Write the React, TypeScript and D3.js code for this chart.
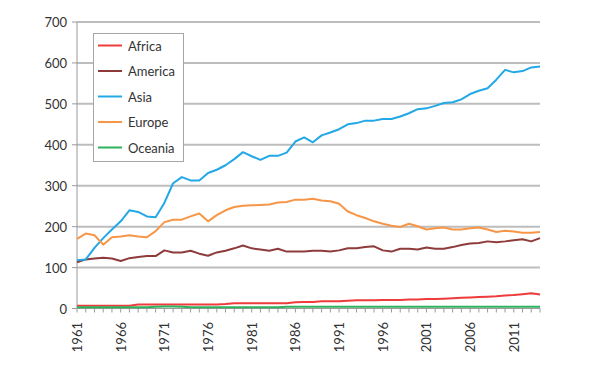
import React from "react";
import * as d3 from "d3";

const years = d3.range(1961, 2015);

const africa = [
  7, 7, 7, 7, 7, 7, 7, 10, 10, 10,
  10, 10, 10, 10, 10, 10, 10, 11, 13, 13,
  13, 13, 13, 13, 13, 15, 16, 16, 18, 18,
  18, 19, 20, 20, 20, 21, 21, 21, 22, 22,
  23, 23, 24, 25, 26, 27, 28, 29, 30, 32,
  33, 35, 37, 34,
];
const america = [
  113, 120, 122, 124, 122, 116, 123, 126, 128, 128,
  142, 137, 137, 141, 134, 129, 137, 141, 147, 154,
  147, 144, 141, 146, 139, 139, 139, 141, 141, 139,
  142, 147, 147, 150, 152, 142, 139, 146, 146, 144,
  149, 146, 146, 150, 155, 159, 160, 164, 162, 164,
  167, 169, 164, 172,
];
const asia = [
  118, 120, 148, 172, 193, 213, 240, 236, 225, 223,
  258, 306, 321, 313, 313, 331, 339, 350, 365, 382,
  372, 363, 373, 373, 381, 408, 418, 406, 423, 430,
  438, 450, 453, 459, 459, 463, 463, 469, 477, 487,
  489, 495, 502, 504, 511, 524, 532, 538, 559, 583,
  577, 580, 589, 591,
];
const europe = [
  170, 183, 179, 156, 174, 176, 179, 176, 174, 189,
  211, 217, 217, 225, 232, 213, 228, 240, 248, 251,
  252, 253, 254, 259, 260, 266, 266, 268, 264, 262,
  256, 237, 228, 221, 213, 207, 202, 199, 207, 201,
  193, 196, 198, 193, 193, 196, 198, 193, 187, 190,
  188, 185, 185, 187,
];
const oceania = [
  3, 3, 3, 3, 3, 3, 3, 3, 3, 4,
  5, 5, 4, 3, 3, 3, 3, 3, 3, 3,
  3, 3, 3, 3, 4, 4, 4, 4, 4, 4,
  4, 4, 4, 4, 4, 4, 4, 4, 4, 4,
  4, 4, 4, 4, 4, 4, 4, 4, 4, 4,
  4, 4, 4, 4,
];

const seriesNames = ["Africa", "America", "Asia", "Europe", "Oceania"];
const seriesValues = [africa, america, asia, europe, oceania];
const seriesColors = ["#ee3b3b", "#8e3b3b", "#22a8e6", "#f79646", "#2db35d"];

const yTicks = [0, 100, 200, 300, 400, 500, 600, 700];
const xLabelYears = years.filter((y) => (y - 1961) % 5 === 0);

const font = "Lato, 'Open Sans', sans-serif";

export default function App() {
  const width = 600;
  const height = 372;

  const x = d3.scaleLinear().domain([1961, 2014]).range([77, 540]);
  const y = d3.scaleLinear().domain([0, 700]).range([308.5, 22]);

  const line = d3
    .line<number>()
    .x((_, i) => x(years[i]))
    .y((d) => y(d));

  return (
    <svg
      width={width}
      height={height}
      style={{ position: "absolute", left: 0, top: 0, background: "#fff" }}
    >
      {/* gridlines */}
      {yTicks.filter((t) => t > 0).map((t) => (
        <line key={t} x1={x(1961)} x2={x(2014)} y1={y(t)} y2={y(t)} stroke="#bdbdbd" strokeWidth={2} />
      ))}

      {/* y axis */}
      <line x1={77} x2={77} y1={y(700)} y2={y(0)} stroke="#9a9a9a" strokeWidth={1} />
      {yTicks.map((t) => (
        <g key={t}>
          <line x1={72} x2={77} y1={y(t)} y2={y(t)} stroke="#9a9a9a" />
          <text
            x={67}
            y={y(t)}
            textAnchor="end"
            dominantBaseline="central"
            fontSize="13px"
            fontFamily={font}
            fill="#333"
          >
            {t}
          </text>
        </g>
      ))}

      {/* x axis */}
      <line x1={x(1961)} x2={x(2014)} y1={y(0)} y2={y(0)} stroke="#9a9a9a" strokeWidth={1} />
      {years.map((yr) => (
        <line key={yr} x1={x(yr)} x2={x(yr)} y1={y(0)} y2={y(0) + 4} stroke="#9a9a9a" />
      ))}
      {xLabelYears.map((yr) => (
        <text
          key={yr}
          transform={`translate(${x(yr)},322) rotate(-90)`}
          textAnchor="end"
          dominantBaseline="central"
          fontSize="13px"
          fontFamily={font}
          fill="#333"
        >
          {yr}
        </text>
      ))}

      {/* series */}
      {seriesValues.map((vals, i) => (
        <path key={seriesNames[i]} d={line(vals) || ""} fill="none" stroke={seriesColors[i]} strokeWidth={2} strokeLinejoin="round" />
      ))}

      {/* legend */}
      <g>
        <rect x={93.5} y={33.5} width={90} height={128} fill="#fff" stroke="#a6a6a6" />
        {seriesNames.map((name, i) => {
          const ly = 45.5 + i * 25.5;
          return (
            <g key={name}>
              <line x1={98} x2={122} y1={ly} y2={ly} stroke={seriesColors[i]} strokeWidth={2} />
              <text
                x={128}
                y={ly}
                dominantBaseline="central"
                fontSize="13px"
                fontFamily={font}
                fill="#333"
              >
                {name}
              </text>
            </g>
          );
        })}
      </g>
    </svg>
  );
}
